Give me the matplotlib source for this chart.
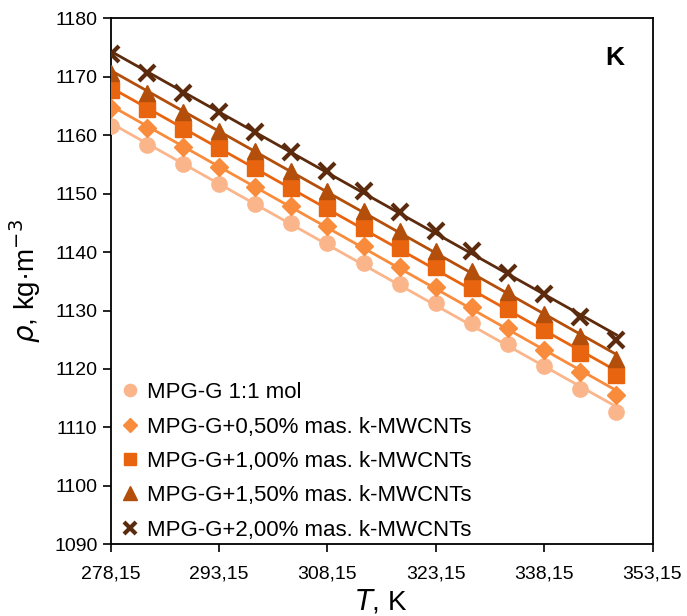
import numpy as np
import matplotlib
matplotlib.use("Agg")
import matplotlib.pyplot as plt

plt.rcParams['font.family'] = ['Liberation Sans', 'DejaVu Sans']

T = [278.15, 283.15, 288.15, 293.15, 298.15, 303.15, 308.15, 313.15,
     318.15, 323.15, 328.15, 333.15, 338.15, 343.15, 348.15]

rho_0 = [1161.6, 1158.3, 1155.0, 1151.7, 1148.3, 1144.9, 1141.5, 1138.1,
         1134.6, 1131.3, 1127.8, 1124.2, 1120.5, 1116.6, 1112.7]
rho_050 = [1164.6, 1161.3, 1158.0, 1154.6, 1151.2, 1147.8, 1144.4, 1141.0,
           1137.5, 1134.1, 1130.6, 1127.0, 1123.3, 1119.4, 1115.5]
rho_100 = [1167.7, 1164.4, 1161.1, 1157.8, 1154.4, 1151.0, 1147.6, 1144.2,
           1140.7, 1137.4, 1133.9, 1130.3, 1126.6, 1122.8, 1118.9]
rho_150 = [1170.6, 1167.3, 1164.0, 1160.7, 1157.3, 1153.9, 1150.5, 1147.1,
           1143.6, 1140.2, 1136.7, 1133.1, 1129.4, 1125.6, 1121.7]
rho_200 = [1173.9, 1170.6, 1167.3, 1164.0, 1160.6, 1157.2, 1153.8, 1150.4,
           1146.9, 1143.6, 1140.1, 1136.5, 1132.8, 1128.9, 1125.0]

labels = ['MPG-G 1:1 mol',
          'MPG-G+0,50% mas. k-MWCNTs',
          'MPG-G+1,00% mas. k-MWCNTs',
          'MPG-G+1,50% mas. k-MWCNTs',
          'MPG-G+2,00% mas. k-MWCNTs']
colors = ['#fbb58a', '#f98b3c', '#e9640f', '#b34e0b', '#5c2a0c']
markers = ['o', 'D', 's', '^', 'x']
msizes = [11, 9, 11, 12, 11]

x_ticks = [278.15, 293.15, 308.15, 323.15, 338.15, 353.15]
y_ticks = list(range(1090, 1181, 10))

fig = plt.figure(figsize=(6.87, 6.16), dpi=100)
ax = fig.add_axes([0.1611, 0.1164, 0.7887, 0.8539])

series = [rho_0, rho_050, rho_100, rho_150, rho_200]
x = np.array(T)
for y, c, m, ms, lab in zip(series, colors, markers, msizes, labels):
    # straight trend line through each series, like the spreadsheet one
    k, b = np.polyfit(x, y, 1)
    ax.plot([x[0], x[-1]], [k * x[0] + b, k * x[-1] + b], color=c, lw=2, zorder=2)
    if m == 'x':
        ax.plot(x, y, ls='none', marker=m, ms=ms, mew=3, color=c, label=lab, zorder=3)
    else:
        ax.plot(x, y, ls='none', marker=m, ms=ms, color=c, mec=c, label=lab, zorder=3)

ax.set_xlim(278.15, 353.15)
ax.set_ylim(1090, 1180)
ax.set_xticks(x_ticks)
ax.set_xticklabels([('%.2f' % v).replace('.', ',') for v in x_ticks])
ax.set_yticks(y_ticks)
ax.tick_params(direction='out', length=6, width=1.2, labelsize=14, colors='black')
ax.tick_params(axis='x', pad=9)
for s in ax.spines.values():
    s.set_linewidth(1.3)

ax.set_xlabel('$\\it{T}$, K', fontsize=20, labelpad=4)
ax.set_ylabel('$\\it{\\rho}$, kg·m$^{-3}$', fontsize=20, labelpad=8)

ax.text(0.93, 0.925, 'K', transform=ax.transAxes, fontsize=19, fontweight='bold',
        ha='center', va='center')

leg = ax.legend(loc='lower left', bbox_to_anchor=(0.0, -0.012), frameon=False,
                fontsize=16, handletextpad=0.4, handlelength=0.8,
                labelspacing=0.6, borderaxespad=0.05, markerscale=0.8)

fig.savefig('out.png', dpi=100)
